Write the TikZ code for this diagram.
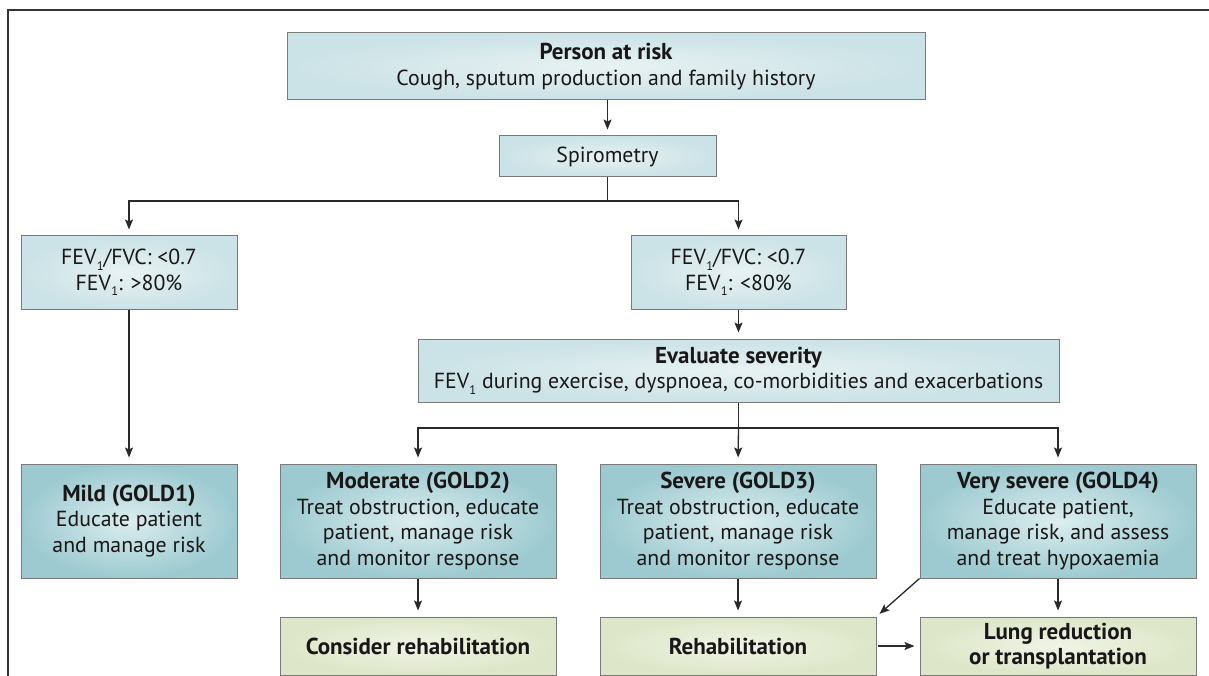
\documentclass[tikz,border=0pt]{standalone}
\usepackage{fontspec}
\setmainfont{PT Sans}
\usetikzlibrary{arrows.meta}
\definecolor{txt}{HTML}{1A1718}
\definecolor{bord}{HTML}{7A7A7A}
\definecolor{lightout}{HTML}{CBE2E6}
\definecolor{lightin}{HTML}{E8F2F3}
\definecolor{darkout}{HTML}{9CCAD0}
\definecolor{darkin}{HTML}{DCEDEF}
\definecolor{greenout}{HTML}{DDE6C8}
\definecolor{greenin}{HTML}{F0F4E6}
\definecolor{linec}{HTML}{2A2A2A}
\newcommand{\subone}{\kern0.3pt\raisebox{-0.5ex}{\fontsize{12.5}{12.5}\selectfont 1}}
\newcommand{\ttl}[1]{{\fontsize{23}{25.7}\selectfont\bfseries #1}}
\tikzset{
  boxbase/.style={rectangle, draw=bord, line width=1pt, align=center, text=txt,
    inner sep=0pt, font=\fontsize{21.8}{25.7}\selectfont},
  lightbox/.style={boxbase, inner color=lightin, outer color=lightout},
  darkbox/.style={boxbase, inner color=darkin, outer color=darkout},
  greenbox/.style={boxbase, inner color=greenin, outer color=greenout},
  conn/.style={draw=linec, line width=1.3pt},
  arr/.style={conn, -{Stealth[length=10pt,width=8pt,inset=2pt]}, shorten >=6pt},
}
\begin{document}
\begin{tikzpicture}[x=1pt,y=-1pt]
\useasboundingbox (0,0) rectangle (1209,676);
% frame
\draw[line width=1.2pt, draw=black!80] (8,676) -- (8,10) -- (1209,10);
% nodes
\node[lightbox, minimum width=638pt, minimum height=67pt] (person) at (606,66.5)
  {\ttl{Person at risk}\\Cough, sputum production and family history};
\node[lightbox, minimum width=217pt, minimum height=41pt] (spiro) at (607.5,156.5)
  {Spirometry};
\node[lightbox, minimum width=216pt, minimum height=73pt] (fevL) at (129,272.5)
  {FEV\subone/FVC: <0.7\\FEV\subone: >80\%};
\node[lightbox, minimum width=215pt, minimum height=73pt] (fevR) at (738.5,272.5)
  {FEV\subone/FVC: <0.7\\FEV\subone: <80\%};
\node[lightbox, minimum width=641pt, minimum height=63pt] (eval) at (738.5,370.5)
  {\ttl{Evaluate severity}\\FEV\subone{} during exercise, dyspnoea, co-morbidities and exacerbations};
\node[darkbox, minimum width=216pt, minimum height=114pt] (mild) at (129,521)
  {\ttl{Mild (GOLD1)}\\Educate patient\\and manage risk};
\node[darkbox, minimum width=276pt, minimum height=114pt] (mod) at (418,521)
  {\ttl{Moderate (GOLD2)}\\Treat obstruction, educate\\patient, manage risk\\and monitor response};
\node[darkbox, minimum width=276pt, minimum height=114pt] (sev) at (738,521)
  {\ttl{Severe (GOLD3)}\\Treat obstruction, educate\\patient, manage risk\\and monitor response};
\node[darkbox, minimum width=276pt, minimum height=114pt] (vsev) at (1058,521)
  {\ttl{Very severe (GOLD4)}\\Educate patient,\\manage risk, and assess\\and treat hypoxaemia};
\node[greenbox, minimum width=276pt, minimum height=58pt] (cons) at (418,646)
  {\ttl{Consider rehabilitation}};
\node[greenbox, minimum width=276pt, minimum height=58pt] (rehab) at (738,646)
  {\ttl{Rehabilitation}};
\node[greenbox, minimum width=276pt, minimum height=58pt] (lung) at (1058,646)
  {\ttl{Lung reduction}\\\ttl{or transplantation}};
% connectors
\coordinate (b1) at (607.5,201);
\coordinate (b2) at (738.5,428);
\draw[arr] (person.south -| spiro.north) -- (spiro.north);
\draw[conn] (spiro.south) -- (b1);
\draw[arr] (b1) -| (fevL.north);
\draw[arr] (b1) -| (fevR.north);
\draw[arr] (fevL.south) -- (mild.north);
\draw[arr] (fevR.south) -- (eval.north -| fevR.south);
\draw[conn] (eval.south -| b2) -- (b2);
\draw[arr] (b2) -| (mod.north);
\draw[arr] (b2) -- (sev.north);
\draw[arr] (b2) -| (vsev.north);
\draw[arr] (mod.south) -- (cons.north);
\draw[arr] (sev.south) -- (rehab.north);
\draw[arr] (vsev.south) -- (lung.north);
\draw[arr, shorten >=4pt] (vsev.south west) -- (rehab.north east);
\draw[arr, shorten >=5pt, shorten <=1pt] (rehab.east) -- (lung.west);
\end{tikzpicture}
\end{document}
